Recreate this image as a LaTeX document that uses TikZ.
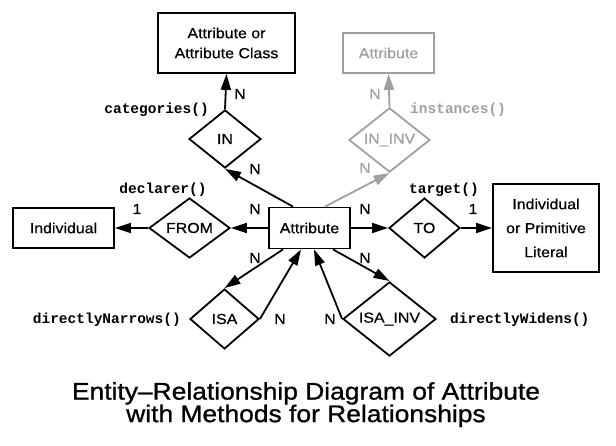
\documentclass[tikz,border=0pt]{standalone}
\usepackage{fontspec}
\usepackage{tikz}
\usetikzlibrary{arrows.meta}
\usetikzlibrary{shapes.geometric}
\newfontfamily\erfont[FakeStretch=1.1,FakeBold=0.6]{Liberation Sans}
\newfontfamily\ertitlefont[FakeStretch=1.1,FakeBold=1]{Liberation Sans}
\newfontfamily\ermethodfont{Liberation Mono}
\definecolor{faded}{RGB}{160,160,160}
\tikzset{
	entity/.style={draw, line width=1.8pt, inner sep=0pt, align=center,
		font=\erfont\fontsize{14.5}{20}\selectfont},
	relation/.style={diamond, draw, line width=1.8pt, inner sep=0pt, aspect=1,
		font=\erfont\fontsize{14.5}{18}\selectfont},
	card/.style={inner sep=0pt, font=\erfont\fontsize{14.5}{18}\selectfont},
	method/.style={inner sep=0pt, font=\ermethodfont\bfseries\fontsize{14.5}{18}\selectfont},
	link/.style={line width=1.8pt, -{Triangle[length=16pt,width=10pt]}}
}
\begin{document}
\begin{tikzpicture}[x=1pt,y=-1pt]
	\useasboundingbox (0,0) rectangle (616,446);
	
	% entities
	\node[entity, minimum width=81pt, minimum height=41pt] (attr) at (309.5,228) {Attribute};
	\node[entity, minimum width=137pt, minimum height=60pt] (cls) at (226.5,43) {Attribute or\\Attribute Class};
	\node[entity, minimum width=91pt, minimum height=40pt, faded] (attrg) at (388.5,53) {Attribute};
	\node[entity, minimum width=101pt, minimum height=40pt] (indiv) at (63.5,228) {Individual};
	\node[entity, minimum width=106pt, minimum height=88pt,
		font=\erfont\fontsize{14.5}{24}\selectfont] (lit) at (546,228) {Individual\\or Primitive\\Literal};
	
	% relationships
	\node[relation, minimum width=72pt, minimum height=58pt] (in) at (225,139) {IN};
	\node[relation, minimum width=81pt, minimum height=60pt, faded] (ininv) at (389.5,140) {IN\_INV};
	\node[relation, minimum width=81pt, minimum height=60pt] (from) at (189.5,228) {FROM};
	\node[relation, minimum width=71pt, minimum height=60pt] (to) at (424.5,228) {TO};
	\node[relation, minimum width=69pt, minimum height=60pt] (isa) at (224.5,319) {ISA};
	\node[relation, minimum width=93pt, minimum height=60pt] (isainv) at (389.5,319) {ISA\_INV};
	
	% connectors
	\draw[link] (in.north) -- (cls.south);
	\draw[link] ([xshift=-16.5pt]attr.north) -- (in.south);
	\draw[link, faded] ([xshift=15.5pt]attr.north) -- (ininv.south);
	\draw[link, faded] (ininv.north) -- (attrg.south);
	\draw[link] (attr.west) -- (from.east);
	\draw[link] (from.west) -- (indiv.east);
	\draw[link] (attr.east) -- (to.west);
	\draw[link] (to.east) -- (lit.west);
	\draw[link] ([xshift=-26.5pt]attr.south) -- (isa.north);
	\draw[link] (isa.east) -- ([xshift=-8.5pt]attr.south);
	\draw[link] ([xshift=23.5pt]attr.south) -- (isainv.north);
	\draw[link] (isainv.west) -- ([xshift=4.5pt]attr.south);
	
	% cardinalities
	\node[card] (nclsin) at (240,94) {N};
	\node[card] (ninattr) at (255,169) {N};
	\node[card, faded] (nattrg) at (375,94) {N};
	\node[card, faded] (ninv) at (365,168) {N};
	\node[card] (onefrom) at (137,209) {1};
	\node[card] (nfrom) at (255,209) {N};
	\node[card] (nto) at (365,209) {N};
	\node[card] (oneto) at (473,209) {1};
	\node[card] (nisaout) at (255,258) {N};
	\node[card] (nisain) at (280,319) {N};
	\node[card] (nisainvout) at (365,258) {N};
	\node[card] (nisainvin) at (330,319) {N};
	
	% methods
	\node[method, anchor=east] (mcat) at (209,110) {categories()};
	\node[method, anchor=west, faded] (minst) at (410,110) {instances()};
	\node[method] (mdecl) at (163,190) {declarer()};
	\node[method] (mtarget) at (444,190) {target()};
	\node[method, anchor=east] (mnarrow) at (181,320) {directlyNarrows()};
	\node[method, anchor=west] (mwiden) at (450,320) {directlyWidens()};
	
	% title
	\node[anchor=north, align=center, inner sep=0pt,
		font=\ertitlefont\fontsize{24}{22.5}\selectfont] (title) at (306,382)
		{Entity–Relationship Diagram of Attribute\\with Methods for Relationships};
\end{tikzpicture}
\end{document}
